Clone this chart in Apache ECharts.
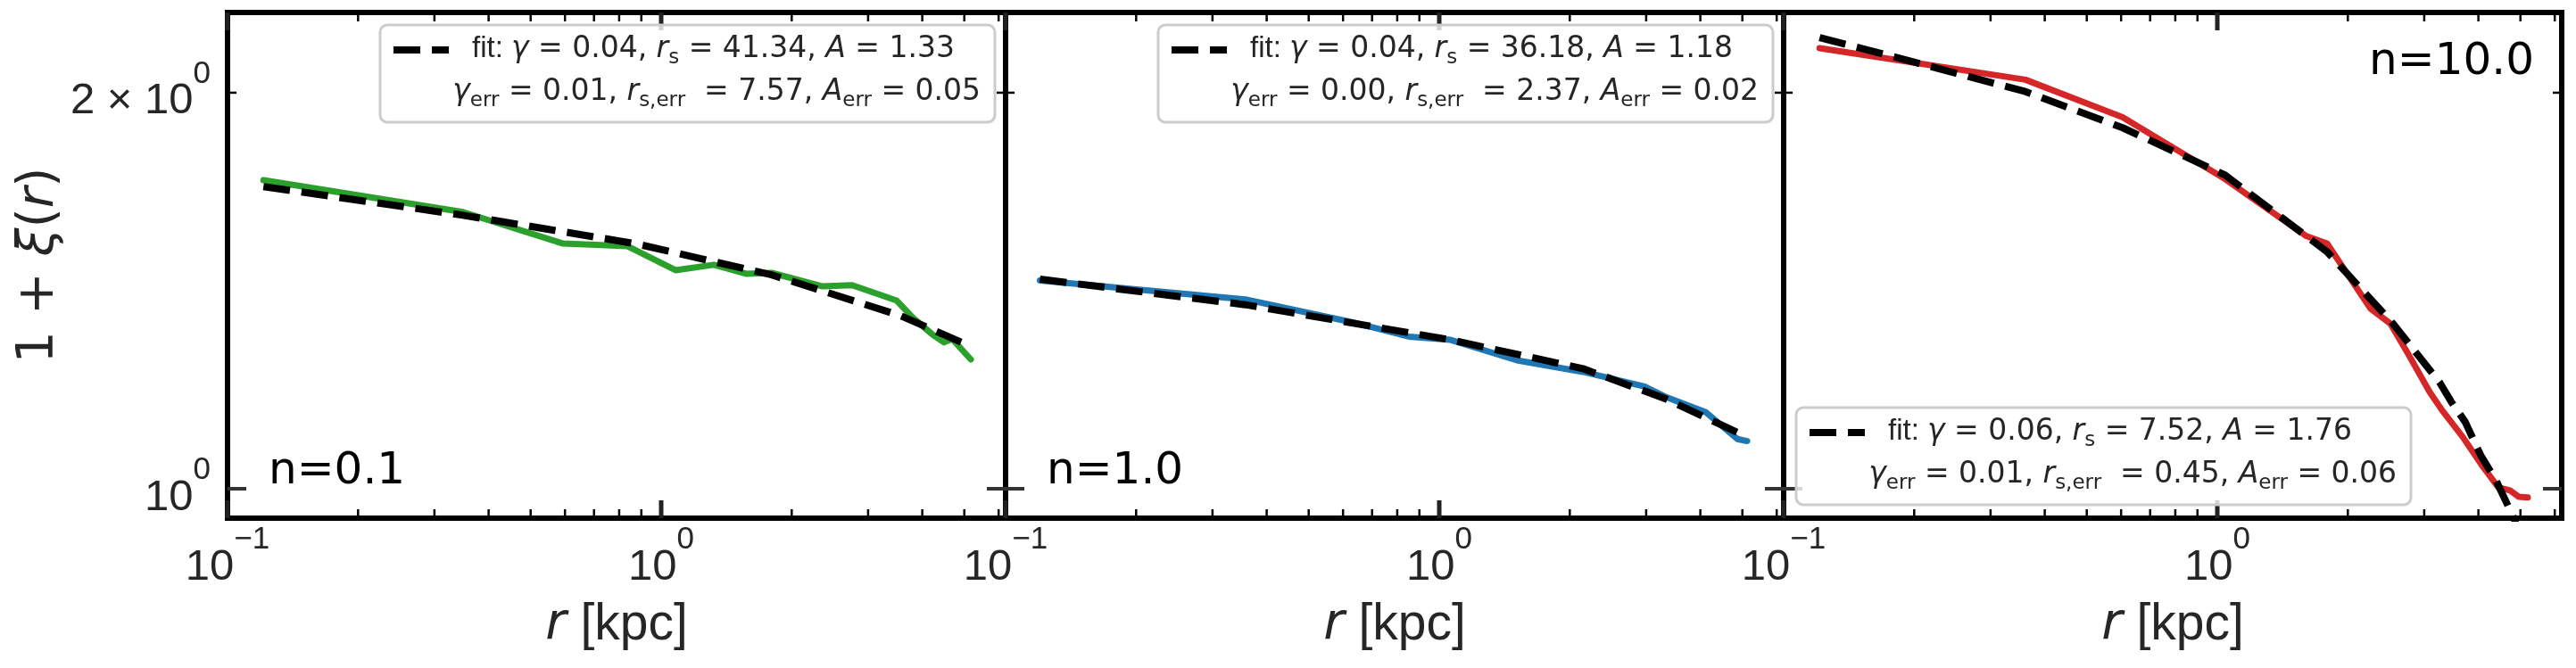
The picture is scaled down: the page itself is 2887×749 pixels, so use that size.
<!DOCTYPE html>
<html>
<head>
<meta charset="utf-8">
<script src="https://cdn.jsdelivr.net/npm/echarts@6.0.0/dist/echarts.min.js"></script>
<style>
  html, body { margin: 0; padding: 0; background: #fff; }
  #chart { width: 2887px; height: 749px; }
</style>
</head>
<body>
<div id="chart"></div>
<script>
// ---- data ----
const panelLabels = ['n=0.1', 'n=1.0', 'n=10.0']
const lineColors = ['#2ca02c', '#1f77b4', '#d62728']

// n = 0.1 (green)
const rN01 = [0.121, 0.349, 0.594, 0.835, 1.079, 1.322, 1.569, 1.799, 2.357, 2.756, 3.493, 3.804, 4.222, 4.490, 4.686, 5.176]
const xiN01 = [1.716, 1.623, 1.536, 1.529, 1.466, 1.480, 1.457, 1.459, 1.425, 1.428, 1.390, 1.349, 1.310, 1.292, 1.300, 1.254]
const rFitN01 = [0.121, 0.349, 0.878, 1.798, 3.56, 5.15]
const xiFitN01 = [1.697, 1.614, 1.535, 1.454, 1.354, 1.284]

// n = 1.0 (blue)
const rN1 = [0.120, 0.357, 0.632, 0.851, 1.058, 1.510, 2.145, 2.974, 3.316, 4.123, 4.866, 5.129]
const xiN1 = [1.440, 1.393, 1.338, 1.305, 1.298, 1.252, 1.227, 1.196, 1.175, 1.143, 1.091, 1.087]
const rFitN1 = [0.120, 0.357, 1.058, 2.145, 3.316, 5.129]
const xiFitN1 = [1.443, 1.380, 1.298, 1.234, 1.171, 1.095]

// n = 10.0 (red)
const rN10 = [0.121, 0.361, 0.605, 1.041, 1.606, 1.791, 2.254, 2.507, 2.756, 3.09, 3.30, 3.68, 4.05, 4.45, 4.73, 4.96, 5.20]
const xiN10 = [2.162, 2.046, 1.916, 1.720, 1.556, 1.536, 1.371, 1.335, 1.266, 1.184, 1.147, 1.095, 1.045, 1.002, 0.997, 0.986, 0.985]
const rFitN10 = [0.121, 0.199, 0.361, 0.605, 1.041, 1.791, 2.543, 3.253, 3.46, 3.73, 4.05, 4.39, 4.82, 4.95]
const xiFitN10 = [2.203, 2.111, 2.004, 1.881, 1.732, 1.514, 1.335, 1.205, 1.165, 1.124, 1.060, 1.015, 0.951, 0.93]

// fit parameters shown in the legends
const fitGamma = ['0.04', '0.04', '0.06']
const fitRs = ['41.34', '36.18', '7.52']
const fitA = ['1.33', '1.18', '1.76']
const errGamma = ['0.01', '0.00', '0.01']
const errRs = ['7.57', '2.37', '0.45']
const errA = ['0.05', '0.02', '0.06']

// axes
const xMajorTicks = [0.1, 1]
const xTickLabels = ['10^−1', '10^0']
const xMinorTicks = [0.2, 0.3, 0.4, 0.5, 0.6, 0.7, 0.8, 0.9, 2, 3, 4, 5, 6]
const yMajorTicks = [1]
const yMinorTicks = [2]
const yTickValues = [2, 1]
const yTickLabels = ['2 × 10^0', '10^0']

const dataR = [rN01, rN1, rN10]
const dataXi = [xiN01, xiN1, xiN10]
const fitR = [rFitN01, rFitN1, rFitN10]
const fitXi = [xiFitN01, xiFitN1, xiFitN10]

// ---- layout ----
const X_MIN = 0.1
const X_MAX = 6.226
const Y_MIN = 0.9498
const Y_MAX = 2.3015
const GRID_LEFT = 255
const GRID_TOP = 14
const GRID_W = 872
const GRID_H = 567

const MATH = 'DejaVu Sans'
const SANS = 'Liberation Sans'
const TXT = '#262626'

const tickRich = {
    b: { fontFamily: SANS, fontSize: 49, fill: TXT, lineHeight: 49 },
    s: { fontFamily: SANS, fontSize: 35, fill: TXT, lineHeight: 35, padding: [0, 0, 62, 0] },
}

const legRich = {
    a: { fontFamily: SANS, fontSize: 33, fill: TXT, lineHeight: 33 },
    m: { fontFamily: MATH, fontSize: 33, fill: TXT, lineHeight: 33 },
    i: { fontFamily: MATH, fontStyle: 'italic', fontSize: 33, fill: TXT, lineHeight: 33 },
    sb: { fontFamily: MATH, fontSize: 23, fill: TXT, lineHeight: 23, padding: [20, 0, 0, 0] },
}

/**
 * "10^0" -> rich text with a superscript
 */
function toRich(s) {
    const parts = s.split('^')
    return '{b|' + parts[0] + '}' + (parts[1] !== undefined ? '{s|' + parts[1] + '}' : '')
}

function xTickSeries(p, values, len, width, color) {
    return {
        type: 'custom', xAxisIndex: p, yAxisIndex: p, clip: false, silent: true, z: 6,
        data: values.map(v => [v, 1]),
        renderItem(params, api) {
            const cs = params.coordSys
            const x = api.coord([api.value(0), 1])[0]
            const top = cs.y
            const bottom = cs.y + cs.height
            const style = { stroke: color, lineWidth: width }
            return {
                type: 'group',
                children: [
                    { type: 'line', shape: { x1: x, y1: bottom, x2: x, y2: bottom - len }, style },
                    { type: 'line', shape: { x1: x, y1: top, x2: x, y2: top + len }, style },
                ],
            }
        },
    }
}

function yTickSeries(p, values, len, width, color) {
    return {
        type: 'custom', xAxisIndex: p, yAxisIndex: p, clip: false, silent: true, z: 6,
        data: values.map(v => [1, v]),
        renderItem(params, api) {
            const cs = params.coordSys
            const y = api.coord([1, api.value(1)])[1]
            const left = cs.x
            const right = cs.x + cs.width
            const style = { stroke: color, lineWidth: width }
            return {
                type: 'group',
                children: [
                    { type: 'line', shape: { x1: left, y1: y, x2: left + len, y2: y }, style },
                    { type: 'line', shape: { x1: right, y1: y, x2: right - len, y2: y }, style },
                ],
            }
        },
    }
}

function xLabelSeries(p) {
    return {
        type: 'custom', xAxisIndex: p, yAxisIndex: p, clip: false, silent: true, z: 6,
        data: xMajorTicks.map(v => [v, 1]),
        renderItem(params, api) {
            const cs = params.coordSys
            const x = api.coord([api.value(0), 1])[0]
            return {
                type: 'text',
                style: {
                    text: toRich(xTickLabels[params.dataIndex]),
                    x: x, y: cs.y + cs.height + 55,
                    align: 'center', verticalAlign: 'middle',
                    rich: tickRich,
                },
            }
        },
    }
}

function yLabelSeries(p) {
    return {
        type: 'custom', xAxisIndex: p, yAxisIndex: p, clip: false, silent: true, z: 6,
        data: yTickValues.map(v => [1, v]),
        renderItem(params, api) {
            const cs = params.coordSys
            const y = api.coord([1, api.value(1)])[1]
            return {
                type: 'text',
                style: {
                    text: toRich(yTickLabels[params.dataIndex]),
                    x: cs.x - 19, y: y + 10,
                    align: 'right', verticalAlign: 'middle',
                    rich: tickRich,
                },
            }
        },
    }
}

const panels = [0, 1, 2]

const series = []
panels.forEach(i => {
    series.push({
        type: 'line', xAxisIndex: i, yAxisIndex: i, z: 3,
        showSymbol: false, symbol: 'none', animation: false,
        data: dataR[i].map((r, k) => [r, dataXi[i][k]]),
        lineStyle: { color: lineColors[i], width: 7, cap: 'round', join: 'round' },
    })
    series.push({
        type: 'line', xAxisIndex: i, yAxisIndex: i, z: 4,
        showSymbol: false, symbol: 'none', animation: false,
        data: fitR[i].map((r, k) => [r, fitXi[i][k]]),
        lineStyle: { color: '#000', width: 8, type: [30, 13], cap: 'butt' },
    })
    series.push(xTickSeries(i, xMinorTicks, 10, 2.5, '#000'))
    series.push(xTickSeries(i, xMajorTicks, 20, 5, '#222'))
    series.push(yTickSeries(i, yMinorTicks, 10, 2.5, '#000'))
    series.push(yTickSeries(i, yMajorTicks, 21, 4, '#333'))
    series.push(xLabelSeries(i))
})
series.push(yLabelSeries(0))

const graphic = []
panels.forEach(i => {
    const gl = GRID_LEFT + i * GRID_W
    const bx = i < 2 ? gl + 171 : gl + 14
    const by = i < 2 ? 28 : 457
    const bw = 689
    const bh = 109
    graphic.push({
        type: 'rect', z: 100,
        shape: { x: bx, y: by, width: bw, height: bh, r: 8 },
        style: { fill: 'rgba(255,255,255,0.8)', stroke: '#cccccc', lineWidth: 3 },
    })
    graphic.push({
        type: 'line', z: 101,
        shape: { x1: bx + 15, y1: by + 28, x2: bx + 77, y2: by + 28 },
        style: { stroke: '#000', lineWidth: 8, lineDash: [30, 13] },
    })
    graphic.push({
        type: 'text', z: 101,
        style: {
            text: '{a|fit: }{i|γ}{m| = ' + fitGamma[i] + ', }{i|r}{sb|s}{m| = ' + fitRs[i] + ', }{i|A}{m| = ' + fitA[i] + '}',
            x: bx + 103, y: by + 27, align: 'left', verticalAlign: 'middle', rich: legRich,
        },
    })
    graphic.push({
        type: 'text', z: 101,
        style: {
            text: '{i|γ}{sb|err}{m| = ' + errGamma[i] + ', }{i|r}{sb|s,err}{m|  = ' + errRs[i] + ', }{i|A}{sb|err}{m| = ' + errA[i] + '}',
            x: bx + bw - 16, y: by + 75, align: 'right', verticalAlign: 'middle', rich: legRich,
        },
    })
    graphic.push({
        type: 'text', z: 101,
        style: {
            text: panelLabels[i],
            x: i < 2 ? gl + 46 : gl + GRID_W - 31,
            y: i < 2 ? 529 : 70,
            align: i < 2 ? 'left' : 'right', verticalAlign: 'middle',
            fontFamily: MATH, fontSize: 50, fill: '#000',
        },
    })
})

const chart = echarts.init(document.getElementById('chart'), null, { renderer: 'canvas' })
chart.setOption({
    animation: false,
    backgroundColor: '#fff',
    grid: panels.map(i => ({
        left: GRID_LEFT + i * GRID_W, top: GRID_TOP, width: GRID_W, height: GRID_H,
        show: true, borderColor: '#000', borderWidth: 6, backgroundColor: 'transparent',
        containLabel: false, outerBoundsMode: 'none',
    })),
    xAxis: panels.map(i => ({
        type: 'log', logBase: 10, gridIndex: i, min: X_MIN, max: X_MAX,
        axisLine: { show: false }, axisTick: { show: false }, axisLabel: { show: false },
        splitLine: { show: false }, minorTick: { show: false },
        name: '{i|r}{t| [kpc]}', nameLocation: 'middle', nameGap: 92,
        nameTextStyle: {
            rich: {
                i: { fontFamily: MATH, fontStyle: 'italic', fontSize: 57, color: TXT },
                t: { fontFamily: SANS, fontSize: 57, color: TXT },
            },
        },
    })),
    yAxis: panels.map(i => ({
        type: 'log', logBase: 10, gridIndex: i, min: Y_MIN, max: Y_MAX,
        axisLine: { show: false }, axisTick: { show: false }, axisLabel: { show: false },
        splitLine: { show: false }, minorTick: { show: false },
        name: i === 0 ? '{t|1 + }{i|ξ}{t|(}{i|r}{t|)}' : '',
        nameLocation: 'middle', nameRotate: 90, nameGap: 182,
        nameTextStyle: {
            rich: {
                i: { fontFamily: MATH, fontStyle: 'italic', fontSize: 57, color: TXT },
                t: { fontFamily: MATH, fontSize: 57, color: TXT },
            },
        },
    })),
    series,
    graphic,
})
</script>
</body>
</html>
